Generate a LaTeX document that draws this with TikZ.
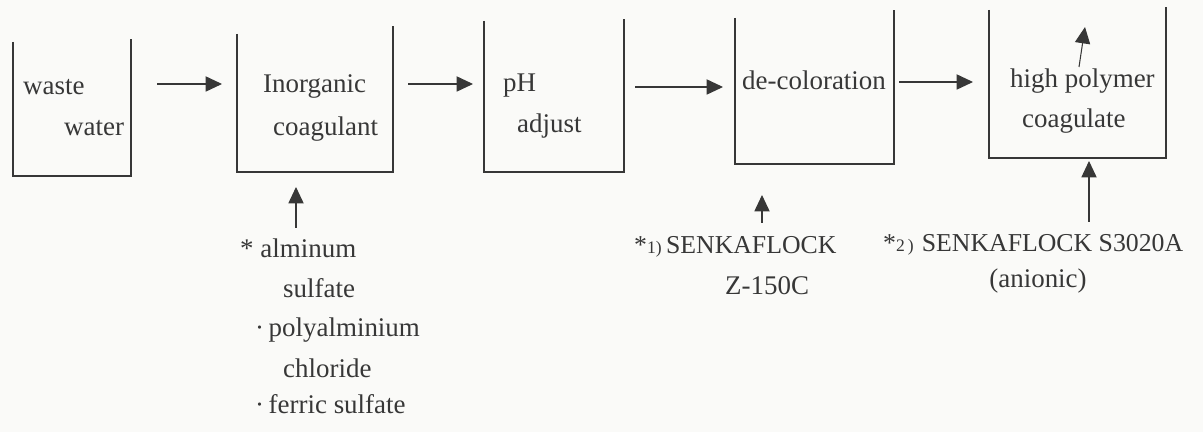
\documentclass[tikz,border=0pt]{standalone}
\usepackage{fontspec}
\setmainfont{Liberation Serif}
\newfontfamily\tankfont{Liberation Serif}
\usetikzlibrary{arrows.meta}
\definecolor{ink}{RGB}{55,55,55}
\definecolor{paper}{RGB}{250,250,248}
\tikzset{
  tank/.style={draw=ink, line width=0.9pt},
  flow/.style={draw=ink, line width=0.9pt, -{Triangle[length=14pt,width=13pt]}},
  txt/.style={anchor=base west, inner sep=0pt, text=ink, font=\tankfont\fontsize{23}{34}\selectfont},
  caps/.style={txt, font=\tankfont\fontsize{22}{34}\selectfont},
}
\newcommand{\smallnum}[1]{{\fontsize{15}{15}\selectfont #1}}
\begin{document}
\begin{tikzpicture}[x=0.03cm, y=-0.03cm]
    \fill[paper] (0,0) rectangle (1203,432);
    \useasboundingbox (0,0) rectangle (1203,432);
    % tanks, open at the top
    \draw[tank] (13,42)--(13,176)--(131,176)--(131,39);
    \draw[tank] (237,34)--(237,172)--(393,172)--(393,26);
    \draw[tank] (484,21)--(484,172)--(624,172)--(624,19);
    \draw[tank] (735,18)--(735,164)--(894,164)--(894,10);
    \draw[tank] (989,10)--(989,158)--(1166,158)--(1166,7);
    % tank texts
    \node[txt] (waste) at (23,95) {waste};  \node[txt] (water) at (64,136) {water};
    \node[txt] (inorg) at (263,93) {Inorganic}; \node[txt] (coag) at (273,136) {coagulant};
    \node[txt] (ph) at (503,92) {pH};  \node[txt] (adjust) at (517,133) {adjust};
    \node[txt] (decol) at (742,90) {de-coloration};
    \node[txt] (highp) at (1010,88) {high polymer}; \node[txt] (coagl) at (1022,128) {coagulate};
    % flow between tanks
    \coordinate (a1s) at (157,84); \coordinate (a1e) at (222,84);
    \coordinate (a2s) at (408,84); \coordinate (a2e) at (473,84);
    \coordinate (a3s) at (635,87); \coordinate (a3e) at (723,87);
    \coordinate (a4s) at (899,82); \coordinate (a4e) at (973,82);
    \draw[flow] (a1s)--(a1e); \draw[flow] (a2s)--(a2e);
    \draw[flow] (a3s)--(a3e); \draw[flow] (a4s)--(a4e);
    % dosing
    \coordinate (d2s) at (296,228); \coordinate (d2e) at (296,187);
    \coordinate (d4s) at (762,223); \coordinate (d4e) at (762,195);
    \coordinate (d5s) at (1089,222); \coordinate (d5e) at (1089,161);
    \coordinate (ups) at (1079,67);  \coordinate (upe) at (1085,27);
    \draw[flow] (d2s)--(d2e); \draw[flow] (d4s)--(d4e);
    \draw[flow] (d5s)--(d5e); \draw[flow] (ups)--(upe);
    % chemicals
    \node[txt] (al1) at (240,258) {* alminum};
    \node[txt] (al2) at (283,298) {sulfate};
    \node[txt] (al3) at (255,337) {·\,polyalminium};
    \node[txt] (al4) at (283,377) {chloride};
    \node[txt] (al5) at (255,413) {·\,ferric sulfate};
    \node[caps] (sk1) at (634,254) {*\smallnum{1)}\,SENKAFLOCK};
    \node[txt] (z150) at (725,295) {Z-150C};
    \node[caps] (sk2) at (883,252) {*\smallnum{2\,)}\hspace{7pt}SENKAFLOCK S3020A};
    \node[txt, anchor=base] (anion) at (1038,288) {(anionic)};
  \end{tikzpicture}
\end{document}
